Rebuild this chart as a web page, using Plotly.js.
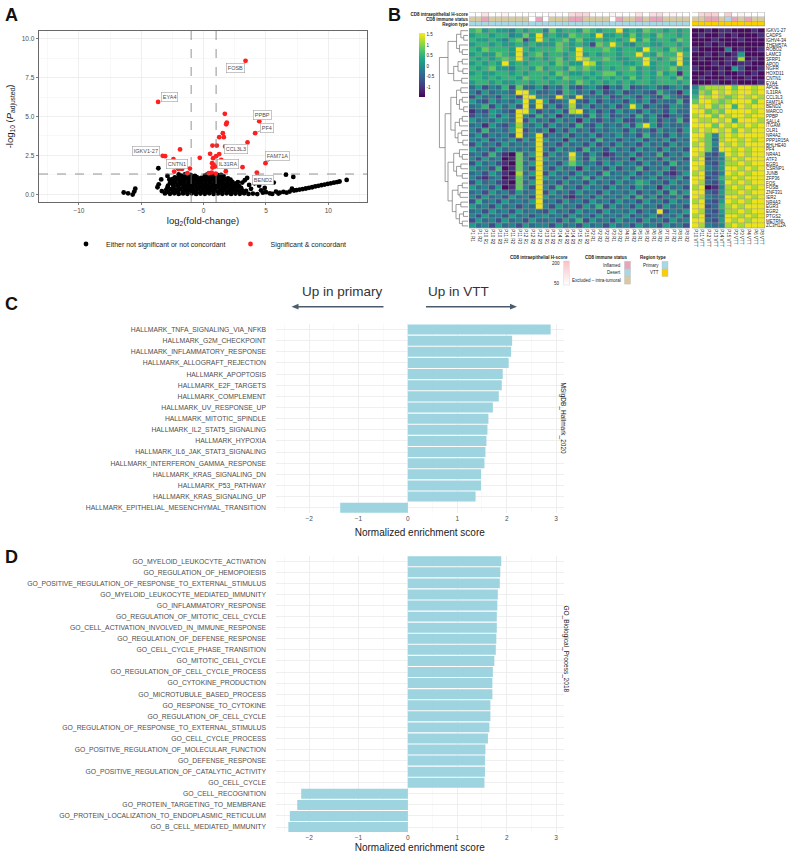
<!DOCTYPE html>
<html><head><meta charset="utf-8">
<script src="https://cdn.plot.ly/plotly-3.0.1.min.js"></script>
<style>html,body{margin:0;padding:0;background:#fff}#chart{width:790px;height:853px}</style>
</head><body><div id="chart"></div>
<script>
// ================= DATA =================
// ---- Panel A: volcano ----
const sigX=[3.36,-3.65,1.70,1.86,1.81,4.46,4.13,1.54,1.62,1.25,3.52,0.71,1.06,1.73,-1.89,0.52,1.25,1.00,0.76,-0.31,-3.28,-3.09,1.41,-2.42,0.68,0.79,0.92,4.96,0.71,3.12,-2.07,-1.91,-1.73,-1.10,-2.36,1.78,4.27,-1.30,0.65,0.42,0.97,-2.00];
const sigY=[8.58,5.94,5.17,4.61,4.50,4.70,3.93,3.93,3.67,3.67,3.33,3.13,3.13,3.07,2.88,2.60,2.58,2.45,2.32,2.34,2.47,2.45,2.21,2.25,2.00,1.91,1.78,2.00,1.72,1.74,1.67,1.65,1.63,1.65,1.46,1.48,1.39,1.35,1.39,1.35,1.33,1.62];
const nsPoints=[
[-3.1,0.05],[-2.7,0.03],[-2.35,0.06],[-2.0,0.02],[-1.65,0.05],[-1.3,0.03],[-0.95,0.06],[-0.6,0.02],[-0.25,0.04],[0.1,0.03],[0.45,0.06],[0.8,0.02],[1.15,0.05],[1.5,0.03],[1.85,0.06],[2.2,0.02],[2.55,0.04],[2.9,0.03],[3.25,0.06],[3.6,0.02],[3.95,0.04],[4.3,0.01],
[-2.85,0.16],[-2.45,0.18],[-2.05,0.15],[-1.65,0.17],[-1.3,0.14],[-0.95,0.18],[-0.6,0.16],[-0.25,0.13],[0.1,0.17],[0.45,0.15],[0.8,0.18],[1.15,0.14],[1.5,0.17],[1.85,0.15],[2.2,0.18],[2.55,0.14],[2.9,0.16],[3.2,0.12],
[-3.0,0.28],[-2.6,0.32],[-2.2,0.27],[-1.85,0.33],[-1.5,0.29],[-1.15,0.31],[-0.8,0.27],[-0.45,0.33],[-0.1,0.29],[0.25,0.31],[0.6,0.27],[0.95,0.34],[1.3,0.28],[1.65,0.32],[2.0,0.27],[2.35,0.31],[2.7,0.26],[3.05,0.3],[3.4,0.22],
[-2.9,0.44],[-2.4,0.46],[-2.0,0.43],[-1.6,0.47],[-1.25,0.44],[-0.9,0.46],[-0.55,0.42],[-0.2,0.47],[0.15,0.44],[0.5,0.45],[0.85,0.43],[1.2,0.47],[1.55,0.44],[1.9,0.46],[2.25,0.42],[2.6,0.45],[3.0,0.41],
[-2.85,0.55],[-2.45,0.6],[-2.1,0.56],[-1.75,0.62],[-1.4,0.57],[-1.05,0.6],[-0.7,0.55],[-0.35,0.61],[0.0,0.57],[0.35,0.6],[0.7,0.56],[1.05,0.62],[1.4,0.57],[1.75,0.6],[2.1,0.55],[2.45,0.59],[2.85,0.52],
[-2.7,0.72],[-2.3,0.74],[-1.95,0.71],[-1.6,0.75],[-1.25,0.72],[-0.9,0.73],[-0.55,0.7],[-0.2,0.74],[0.15,0.72],[0.5,0.74],[0.85,0.71],[1.2,0.75],[1.55,0.72],[1.9,0.73],[2.25,0.69],[2.6,0.7],
[-2.6,0.84],[-2.25,0.88],[-1.9,0.83],[-1.55,0.89],[-1.2,0.85],[-0.85,0.82],[-0.5,0.87],[-0.15,0.84],[0.2,0.89],[0.55,0.85],[0.9,0.88],[1.25,0.83],[1.6,0.87],[1.95,0.82],[2.3,0.8],[2.75,0.78],
[-2.45,0.98],[-2.05,1.0],[-1.7,0.97],[-1.35,1.01],[-1.0,0.98],[-0.65,0.96],[-0.3,0.99],[0.05,0.97],[0.4,1.01],[0.75,0.98],[1.1,1.0],[1.45,0.96],[1.8,0.95],[2.15,0.93],
[-2.3,1.08],[-1.95,1.12],[-1.6,1.1],[-1.25,1.14],[-0.9,1.07],[-0.55,1.1],[-0.2,1.05],[0.2,1.12],[0.5,1.15],[0.85,1.1],[1.2,1.13],[1.55,1.06],[1.95,1.02],
[-1.8,1.2],[-1.35,1.19],[-0.7,1.18],[0.1,1.2],[0.45,1.22],[0.8,1.19],[1.2,1.21],[1.6,1.17],
[-2.0,1.27],[-1.5,1.28],[-1.05,1.25],[0.3,1.27],[0.65,1.28],[1.05,1.26],[1.4,1.24],
[-3.4,0.95],[-3.6,0.64],[-3.7,0.45],[-3.35,0.2],[-3.63,1.67],[-2.9,1.18],[-2.75,0.95],[3.3,0.9],[3.49,1.05],[3.65,0.6],[3.8,0.35],[3.1,0.75],
[4.08,0.7],[4.2,0.92],[4.45,0.55],[4.6,0.25],[4.75,0.1],[5.0,0.13],[5.3,0.06],[5.62,0.75],[5.8,0.17],[6.1,0.1],[6.4,0.15],[6.6,1.26],[6.65,0.1],[6.9,0.17],[7.08,0.36],[7.19,1.11],[7.25,0.24],[7.45,0.27],[7.7,0.3],[7.95,0.33],[8.2,0.37],[8.45,0.41],[8.7,0.45],[8.95,0.5],[9.2,0.54],[9.45,0.58],[9.7,0.62],[9.95,0.66],[10.2,0.7],[10.45,0.74],[10.7,0.78],[10.9,0.82],[11.47,0.92],[5.5,0.02],[6.0,0.04],[4.9,0.4],
[-6.41,0.11],[-6.06,0.06],[-5.69,-0.02],[-5.56,0.17],[-5.48,0.36]
];
const labelGenes=['FOSB','EYA4','PPBP','PF4','CCL3L3','IGKV1-27','CNTN1','IL31RA','FAM71A','BEND2'];
const labelX=[2.58,-2.77,4.72,5.05,2.58,-4.59,-2.16,1.94,5.9,4.8];
const labelY=[8.11,6.27,5.09,4.27,2.88,2.79,1.97,1.95,2.47,0.92];
const labelPointX=[3.36,-3.65,4.46,4.13,1.73,-3.28,-1.91,0.92,4.96,4.27];
const labelPointY=[8.58,5.94,4.70,3.93,3.07,2.47,1.65,1.78,2.00,1.39];
const labelSegment=[0,0,0,1,0,0,0,0,1,1];
const fcCut=1, padjCut=1.3;

// ---- Panel B: heatmap ----
const genes=['IGKV1-27','CADPS','IGHV4-34','THEM57A','ROBO2','LAMC3','SFRP1','APOD','NGFR','HOXD11','CNTN1','EYA4','APOE','IL31RA','CCL3L3','FAM71A','BEND2','MARCO','PPBP','SALL4','ITGAM','OLR1','NR4A2','PPP1R15A','BHLHE40','PF4','NR4A1','ATF3','EGR1','CSRNP1','JUNB','ZFP36','FOS','FOSB','ZNF331','IER2','NR4A3','EGR3','EGR2','PTGS2','METRNL','ZC3H12A'];
const primaryCols=['P1 R1','P1 R2','P10 R1','P10 R2','P10 R3','P11 R1','P11 R2','P11 R3','P12 R1','P12 R2','P12 R3','P13 R1','P13 R2','P14 R1','P14 R2','P14 R3','P15 R1','P15 R2','P2 R1','P2 R2','P2 R3','P3 R1','P3 R2','P4 R1','P4 R2','P5 R1','P5 R2','P6 R1','P6 R2','P7 R1','P7 R2','P8 R1','P8 R2'];
const vttCols=['P10 VTT','P11 VTT','P12 VTT','P13 VTT','P14 VTT','P15 VTT','P2 VTT','P3 VTT','P4 VTT','P6 VTT','P8 VTT'];
// expression level codes 0..9 per cell (primary 11|11|11 | vtt 11)
const exprLevels=[-1.4,-1.1,-0.78,-0.46,-0.14,0.18,0.5,0.82,1.14,1.46];
const exprRows=[
"67565546566|47566576566|95657665656|00101100010",
"56656645759|56557665955|65756576656|01001010001",
"65565467259|65675755656|56957566576|00010001000",
"56656556565|55765652769|65466556656|00101000000",
"65766659656|66765966676|56659665765|10000401001",
"56557659567|56656956566|56696576696|00101015000",
"65656769656|56756986676|55669656795|01000118010",
"56565956566|65765598566|65569566595|00010101100",
"65675546657|56657676565|66756566756|10001052001",
"56556656566|65765565677|56656575616|00101001010",
"66565665766|56576656565|65756566575|01000100100",
"56656556656|65665765656|56566566656|00010010001",
"35243627335|24363245314|36234532453|47888979989",
"42534439953|34265342523|52343264315|58798989989",
"25342542994|43953934352|35425326432|69898789898",
"53253435949|52349325243|42535243362|79987899979",
"34625352939|35248352435|24952432543|98978969899",
"13254329952|43528935242|53425342533|99787999989",
"24352539426|35143426352|34263521342|89979899899",
"53435439253|42534153243|52243524362|98898969998",
"34153248435|25342632534|35269524334|99979898989",
"42634359243|51425342434|42534253425|89898979899",
"35243429349|24352435243|53426342534|99748989999",
"43524352539|53415342634|24352435243|98738998989",
"25342534349|34253425242|53425342534|89749898999",
"53425343439|42534263425|34253425342|99739989899",
"34263107359|25349425312|43524362435|98325989899",
"42534017429|53438426342|34153425342|89234898999",
"25342107359|34257534253|53425342634|99325889899",
"53426017429|42534153425|24362435243|98435998989",
"34253108359|25342534263|43524352135|89324989899",
"42134017429|53425362534|35243524352|99236898999",
"25342107359|34253425342|53465342534|98325989899",
"53425017429|42634253425|34253415342|89014898989",
"34253425349|25342534253|43524352635|99325889899",
"42534253429|53421342534|35263524352|98434998989",
"26342534359|34253425342|53425342534|89325989899",
"53425342439|42534253625|34253425342|99236898999",
"34253425343|25342534253|43524392435|98325889899",
"42534253424|53425342534|35243524352|89234998989",
"25342534253|34253625342|53425342534|99325989899",
"53425342534|42534253425|34253425342|98434898999"
];
const hscorePrimary=[60,50,120,50,60,80,50,50,50,60,50,50,70,60,50,140,160,150,60,50,50,80,60,50,60,120,50,130,140,70,80,60,50];
const hscoreVTT=[50,150,170,160,50,170,60,80,60,50,50];
const immunePrimary=['E','E','I','E','E','E','E','E','E','NA','I','NA','E','E','E','I','I','E','E','E','E','NA','I','E','E','I','E','I','I','E','E','E','E'];
const immuneVTT=['E','E','I','I','E','D','I','E','I','E','E'];
const immuneLevels=['Inflamed','Desert','Excluded – intra-tumoral'];
const immuneCodes=['I','D','E'];
const immuneColors=['#e8a5b9','#a8d6e4','#d9c99f'];
const regionLevels=['Primary','VTT'];
const regionColors=['#a6d8e5','#f8d000'];
const hscoreLegend=[50,200];
// dendrogram: [height, left, right], leaves = row index
const dendro=[10,
 [7,[4,[2.5,0,[1.5,1,2]],[3,3,[2,4,5]]],[5,[3.5,[2,6,7],[1.8,8,9]],[2.2,10,11]]],
 [8,[6,[4,[2.5,12,13],[3,[2,14,15],[1.5,16,17]]],[4.5,[3,[2,18,19],20],[3.5,[2.2,21,22],[1.8,23,24]]]],
    [7,[5,[3,25,[2,26,27]],[4,[2.5,28,29],[2,30,31]]],[5.5,[3.5,[2,32,33],[2.8,34,35]],[4.2,[2.5,36,37],[3,[1.6,38,39],[2,40,41]]]]]]
];

// ---- Panels C & D: enrichment ----
const hallmarkTerms=['HALLMARK_TNFA_SIGNALING_VIA_NFKB','HALLMARK_G2M_CHECKPOINT','HALLMARK_INFLAMMATORY_RESPONSE','HALLMARK_ALLOGRAFT_REJECTION','HALLMARK_APOPTOSIS','HALLMARK_E2F_TARGETS','HALLMARK_COMPLEMENT','HALLMARK_UV_RESPONSE_UP','HALLMARK_MITOTIC_SPINDLE','HALLMARK_IL2_STAT5_SIGNALING','HALLMARK_HYPOXIA','HALLMARK_IL6_JAK_STAT3_SIGNALING','HALLMARK_INTERFERON_GAMMA_RESPONSE','HALLMARK_KRAS_SIGNALING_DN','HALLMARK_P53_PATHWAY','HALLMARK_KRAS_SIGNALING_UP','HALLMARK_EPITHELIAL_MESENCHYMAL_TRANSITION'];
const hallmarkNES=[2.89,2.11,2.09,2.04,1.92,1.90,1.84,1.72,1.63,1.61,1.59,1.57,1.55,1.48,1.48,1.37,-1.37];
const goTerms=['GO_MYELOID_LEUKOCYTE_ACTIVATION','GO_REGULATION_OF_HEMOPOIESIS','GO_POSITIVE_REGULATION_OF_RESPONSE_TO_EXTERNAL_STIMULUS','GO_MYELOID_LEUKOCYTE_MEDIATED_IMMUNITY','GO_INFLAMMATORY_RESPONSE','GO_REGULATION_OF_MITOTIC_CELL_CYCLE','GO_CELL_ACTIVATION_INVOLVED_IN_IMMUNE_RESPONSE','GO_REGULATION_OF_DEFENSE_RESPONSE','GO_CELL_CYCLE_PHASE_TRANSITION','GO_MITOTIC_CELL_CYCLE','GO_REGULATION_OF_CELL_CYCLE_PROCESS','GO_CYTOKINE_PRODUCTION','GO_MICROTUBULE_BASED_PROCESS','GO_RESPONSE_TO_CYTOKINE','GO_REGULATION_OF_CELL_CYCLE','GO_REGULATION_OF_RESPONSE_TO_EXTERNAL_STIMULUS','GO_CELL_CYCLE_PROCESS','GO_POSITIVE_REGULATION_OF_MOLECULAR_FUNCTION','GO_DEFENSE_RESPONSE','GO_POSITIVE_REGULATION_OF_CATALYTIC_ACTIVITY','GO_CELL_CYCLE','GO_CELL_RECOGNITION','GO_PROTEIN_TARGETING_TO_MEMBRANE','GO_PROTEIN_LOCALIZATION_TO_ENDOPLASMIC_RETICULUM','GO_B_CELL_MEDIATED_IMMUNITY'];
const goNES=[1.89,1.87,1.86,1.82,1.81,1.80,1.80,1.79,1.78,1.75,1.72,1.71,1.71,1.67,1.67,1.65,1.62,1.57,1.56,1.56,1.55,-2.16,-2.24,-2.39,-2.42];

// ================= BUILD =================
const W=790,H=853;
const px=x=>x/W, py=y=>1-y/H;
const FONT='Liberation Sans, Arial, Helvetica, sans-serif';
const G={hmL:[469,690],hmR:[692,765],hmY:[28.3,228.3],annY:[12.3,26.3],dendX:[438,468]};

const traces=[];
traces.push({type:'scatter',mode:'markers',x:nsPoints.map(p=>p[0]),y:nsPoints.map(p=>p[1]),xaxis:'x',yaxis:'y',
  name:'Either not significant or not concordant',marker:{color:'#000',size:4.8},hoverinfo:'skip'});
traces.push({type:'scatter',mode:'markers',x:sigX,y:sigY,xaxis:'x',yaxis:'y',
  name:'Significant & concordant',marker:{color:'#ff1f1f',size:4.8},hoverinfo:'skip'});

// heatmap
const nP=primaryCols.length;
const zAll=exprRows.map(s=>s.replace(/\|/g,'').split('').map(c=>exprLevels[+c]));
const zLeft=zAll.map(r=>r.slice(0,nP)), zRight=zAll.map(r=>r.slice(nP));
const rowIdx=genes.map((_,i)=>i);
const hmCommon={type:'heatmap',colorscale:'Viridis',zmin:-1.5,zmax:1.55,xgap:0.5,ygap:0.5,hoverinfo:'skip',y:rowIdx};
traces.push(Object.assign({},hmCommon,{z:zLeft,x:primaryCols.map((_,i)=>i),xaxis:'x2',yaxis:'y2',showscale:true,
  colorbar:{x:px(418.5),xanchor:'left',y:py(65.5),yanchor:'middle',len:64,lenmode:'pixels',thickness:5.5,thicknessmode:'pixels',
   outlinewidth:0,tickvals:[-1,-0.5,0,0.5,1,1.5],ticktext:['-1','-0.5','0','0.5','1','1.5'],tickfont:{size:4.5,family:FONT,color:'#222'},ticks:'',xpad:0,ypad:0}}));
traces.push(Object.assign({},hmCommon,{z:zRight,x:vttCols.map((_,i)=>i),xaxis:'x3',yaxis:'y2',showscale:false}));

// annotation bars
const hsScale=[[0,'#ffffff'],[1,'#f7c2c4']];
traces.push({type:'heatmap',z:[hscorePrimary],x:primaryCols.map((_,i)=>i),y:[0],xaxis:'x2',yaxis:'y3',colorscale:hsScale,zmin:50,zmax:200,showscale:false,xgap:0.5,ygap:0.5,hoverinfo:'skip'});
traces.push({type:'heatmap',z:[hscoreVTT],x:vttCols.map((_,i)=>i),y:[0],xaxis:'x3',yaxis:'y3',colorscale:hsScale,zmin:50,zmax:200,showscale:false,xgap:0.5,ygap:0.5,hoverinfo:'skip'});
const catColors=[...immuneColors,...regionColors,'#ffffff'];
const nCat=catColors.length;
const catScale=[];catColors.forEach((c,i)=>{catScale.push([i/nCat,c]);catScale.push([(i+1)/nCat,c]);});
const immCode=v=>{const k=immuneCodes.indexOf(v);return k<0?5:k;};
traces.push({type:'heatmap',z:[immunePrimary.map(immCode),primaryCols.map(()=>3)],x:primaryCols.map((_,i)=>i),y:[1,2],xaxis:'x2',yaxis:'y3',colorscale:catScale,zmin:-0.5,zmax:nCat-0.5,showscale:false,xgap:0.5,ygap:0.5,hoverinfo:'skip'});
traces.push({type:'heatmap',z:[immuneVTT.map(immCode),vttCols.map(()=>4)],x:vttCols.map((_,i)=>i),y:[1,2],xaxis:'x3',yaxis:'y3',colorscale:catScale,zmin:-0.5,zmax:nCat-0.5,showscale:false,xgap:0.5,ygap:0.5,hoverinfo:'skip'});

// dendrogram
const dx=[],dy=[];
function walk(n){ if(typeof n==='number') return {y:n,h:0};
  const L=walk(n[1]),R=walk(n[2]),h=n[0];
  dx.push(h,h,null,L.h,h,null,R.h,h,null); dy.push(L.y,R.y,null,L.y,L.y,null,R.y,R.y,null);
  return {y:(L.y+R.y)/2,h};}
walk(dendro);
traces.push({type:'scatter',mode:'lines',x:dx,y:dy,xaxis:'x4',yaxis:'y2',line:{color:'#707070',width:0.7},hoverinfo:'skip',showlegend:false});

// H-score legend gradient
const hsSteps=[];for(let v=hscoreLegend[0];v<=hscoreLegend[1];v+=5)hsSteps.push(v);
traces.push({type:'heatmap',z:hsSteps.map(v=>[v]),y:hsSteps,x:[0],xaxis:'x7',yaxis:'y7',colorscale:hsScale,zmin:50,zmax:200,showscale:false,hoverinfo:'skip'});

// bars
const barColor='#9dd4df';
traces.push({type:'bar',orientation:'h',x:hallmarkNES,y:hallmarkTerms,xaxis:'x5',yaxis:'y5',marker:{color:barColor,line:{width:0}},width:0.9,hoverinfo:'skip',showlegend:false});
traces.push({type:'bar',orientation:'h',x:goNES,y:goTerms,xaxis:'x6',yaxis:'y6',marker:{color:barColor,line:{width:0}},width:0.9,hoverinfo:'skip',showlegend:false});
traces.forEach(t=>{if(t.showlegend===undefined && t.type!=='scatter')t.showlegend=false;});

// ---- layout ----
const tickF={size:6.5,color:'#4d4d4d',family:FONT};
const volcanoAxis={showline:true,mirror:true,linecolor:'#444',linewidth:0.8,gridcolor:'#ebebeb',gridwidth:0.8,zeroline:false,
  ticks:'outside',ticklen:2.5,tickwidth:0.7,tickcolor:'#444',tickfont:tickF};
const nesAxis={range:[-2.67,3.15],dtick:1,tick0:0,gridcolor:'#ebebeb',gridwidth:0.8,zeroline:false,ticks:'',tickfont:tickF,
  minor:{dtick:0.5,showgrid:true,gridcolor:'#f3f3f3',gridwidth:0.5},
  title:{text:'Normalized enrichment score',font:{size:10,color:'#1a1a1a',family:FONT},standoff:8}};
const catAxis={type:'category',autorange:'reversed',gridcolor:'#ebebeb',gridwidth:0.8,ticks:'',ticklabelstandoff:9,
  tickfont:{size:6.8,color:'#4d4d4d',family:FONT},zeroline:false};

const layout={width:W,height:H,margin:{l:0,r:0,t:0,b:0},paper_bgcolor:'#fff',plot_bgcolor:'#fff',
  font:{family:FONT,color:'#222'},showlegend:true,
  legend:{orientation:'h',x:px(66),xanchor:'left',y:py(244),yanchor:'middle',font:{size:7,color:'#1a1a1a',family:FONT},bgcolor:'rgba(0,0,0,0)',itemwidth:30,tracegroupgap:0},
  xaxis:Object.assign({},volcanoAxis,{domain:[px(39),px(367)],anchor:'y',range:[-13.2,13.1],dtick:5,tick0:0,
    minor:{dtick:2.5,showgrid:true,gridcolor:'#f2f2f2',gridwidth:0.5},
    title:{text:'log<sub>2</sub>(fold-change)',font:{size:9.5,color:'#1a1a1a',family:FONT},standoff:4}}),
  yaxis:Object.assign({},volcanoAxis,{domain:[py(202),py(31)],anchor:'x',range:[-0.5,10.5],dtick:2.5,tick0:0,tickformat:'.1f',
    minor:{dtick:1.25,showgrid:true,gridcolor:'#f2f2f2',gridwidth:0.5},
    title:{text:'-log<sub>10</sub> (<i>P</i><sub>adjusted</sub>)',font:{size:9.5,color:'#1a1a1a',family:FONT},standoff:6}}),
  xaxis2:{domain:[px(G.hmL[0]),px(G.hmL[1])],anchor:'y2',range:[-0.5,nP-0.5],tickvals:primaryCols.map((_,i)=>i),ticktext:primaryCols,
    tickangle:90,tickfont:{size:4.5,color:'#222',family:FONT},showgrid:false,zeroline:false,ticks:'',showline:false},
  xaxis3:{domain:[px(G.hmR[0]),px(G.hmR[1])],anchor:'y2',range:[-0.5,vttCols.length-0.5],tickvals:vttCols.map((_,i)=>i),ticktext:vttCols,
    tickangle:90,tickfont:{size:4.5,color:'#222',family:FONT},showgrid:false,zeroline:false,ticks:'',showline:false},
  yaxis2:{domain:[py(G.hmY[1]),py(G.hmY[0])],anchor:'x3',side:'right',range:[genes.length-0.5,-0.5],tickvals:rowIdx,ticktext:genes,
    tickfont:{size:4.5,color:'#222',family:FONT},showgrid:false,zeroline:false,ticks:'',showline:false},
  yaxis3:{domain:[py(G.annY[1]),py(G.annY[0])],anchor:'x2',side:'left',range:[2.5,-0.5],tickvals:[0,1,2],
    ticktext:['<b>CD8 intraepithelial H-score</b>','<b>CD8 immune status</b>','<b>Region type</b>'],
    tickfont:{size:4.5,color:'#222',family:FONT},showgrid:false,zeroline:false,ticks:'',showline:false},
  xaxis4:{domain:[px(G.dendX[0]),px(G.dendX[1])],anchor:'y2',range:[10.5,0],visible:false},
  xaxis7:{domain:[px(563.5),px(569.5)],anchor:'y7',visible:false,range:[-0.5,0.5]},
  yaxis7:{domain:[py(285),py(261)],anchor:'x7',visible:false,range:[50,200]},
  xaxis5:Object.assign({},nesAxis,{domain:[px(276),px(563.5)],anchor:'y5'}),
  yaxis5:Object.assign({},catAxis,{domain:[py(513.3),py(324)],anchor:'x5'}),
  xaxis6:Object.assign({},nesAxis,{domain:[px(276),px(563.5)],anchor:'y6'}),
  yaxis6:Object.assign({},catAxis,{domain:[py(832.6),py(555.7)],anchor:'x6'}),
  annotations:[],shapes:[]
};
const A=layout.annotations,S=layout.shapes;
// panel letters
[['A',3,3],['B',386,3],['C',3,292],['D',3,545]].forEach(([t,x,y])=>A.push({text:'<b>'+t+'</b>',xref:'paper',yref:'paper',x:px(x),y:py(y),xanchor:'left',yanchor:'top',showarrow:false,font:{size:18,color:'#111',family:FONT}}));
// volcano thresholds
[-fcCut,fcCut].forEach(v=>S.push({type:'line',xref:'x',yref:'y domain',x0:v,x1:v,y0:0,y1:1,line:{color:'#777',width:0.8,dash:'dash'}}));
S.push({type:'line',xref:'x domain',yref:'y',x0:0,x1:1,y0:padjCut,y1:padjCut,line:{color:'#777',width:0.8,dash:'dash'}});
// gene labels
labelGenes.forEach((g,i)=>A.push({text:g,xref:'x',yref:'y',x:labelPointX[i],y:labelPointY[i],axref:'x',ayref:'y',ax:labelX[i],ay:labelY[i],
  showarrow:!!labelSegment[i],arrowhead:0,arrowwidth:0.6,arrowcolor:'#555',standoff:2,
  ...(labelSegment[i]?{}:{x:labelX[i],y:labelY[i],showarrow:false}),
  font:{size:5.5,color:'#4d4d4d',family:FONT},bgcolor:'#fff',bordercolor:'#a0a0a0',borderwidth:0.6,borderpad:1.2}));
// heatmap gray grid backgrounds
[[G.hmL,G.hmY],[G.hmR,G.hmY],[G.hmL,G.annY],[G.hmR,G.annY]].forEach(([xr,yr])=>S.push({type:'rect',xref:'paper',yref:'paper',layer:'below',
  x0:px(xr[0]),x1:px(xr[1]),y0:py(yr[1]),y1:py(yr[0]),fillcolor:'#9a9a9a',line:{width:0}}));
// heatmap legends
const lf={size:4.5,color:'#222',family:FONT};
A.push({text:'<b>CD8 intraepithelial H-score</b>',xref:'paper',yref:'paper',x:px(570),y:py(257.5),xanchor:'right',yanchor:'middle',showarrow:false,font:lf});
A.push({text:String(hscoreLegend[1]),xref:'paper',yref:'paper',x:px(561.5),y:py(263.5),xanchor:'right',yanchor:'middle',showarrow:false,font:lf});
A.push({text:String(hscoreLegend[0]),xref:'paper',yref:'paper',x:px(561.5),y:py(283),xanchor:'right',yanchor:'middle',showarrow:false,font:lf});
S.push({type:'rect',xref:'paper',yref:'paper',x0:px(563.5),x1:px(569.5),y0:py(285),y1:py(261),line:{color:'#ccc',width:0.4}});
A.push({text:'<b>CD8 immune status</b>',xref:'paper',yref:'paper',x:px(630),y:py(257.5),xanchor:'right',yanchor:'middle',showarrow:false,font:lf});
immuneLevels.forEach((l,i)=>{const y0=261.3+i*7.6;
  S.push({type:'rect',xref:'paper',yref:'paper',x0:px(624.5),x1:px(630.5),y0:py(y0+7.6),y1:py(y0),fillcolor:immuneColors[i],line:{color:'#bbb',width:0.4}});
  A.push({text:l,xref:'paper',yref:'paper',x:px(623),y:py(y0+3.8),xanchor:'right',yanchor:'middle',showarrow:false,font:lf});});
A.push({text:'<b>Region type</b>',xref:'paper',yref:'paper',x:px(668),y:py(257.5),xanchor:'right',yanchor:'middle',showarrow:false,font:lf});
regionLevels.forEach((l,i)=>{const y0=261.3+i*7.6;
  S.push({type:'rect',xref:'paper',yref:'paper',x0:px(662),x1:px(668),y0:py(y0+7.6),y1:py(y0),fillcolor:regionColors[i],line:{color:'#bbb',width:0.4}});
  A.push({text:l,xref:'paper',yref:'paper',x:px(661),y:py(y0+3.8),xanchor:'right',yanchor:'middle',showarrow:false,font:lf});});
// direction labels & arrows
A.push({text:'Up in primary',xref:'paper',yref:'paper',x:px(342),y:py(291),showarrow:false,font:{size:13.5,color:'#333',family:FONT}});
A.push({text:'Up in VTT',xref:'paper',yref:'paper',x:px(458),y:py(291),showarrow:false,font:{size:13.5,color:'#333',family:FONT}});
const arrowCol='#4b5b6c', ay=306.7;
S.push({type:'line',xref:'paper',yref:'paper',x0:px(296),x1:px(383.5),y0:py(ay),y1:py(ay),line:{color:arrowCol,width:1.5}});
S.push({type:'line',xref:'paper',yref:'paper',x0:px(426),x1:px(512.5),y0:py(ay),y1:py(ay),line:{color:arrowCol,width:1.5}});
const tri=(xt,xb)=>`M ${px(xt)} ${py(ay)} L ${px(xb)} ${py(ay-2.9)} L ${px(xb)} ${py(ay+2.9)} Z`;
S.push({type:'path',xref:'paper',yref:'paper',path:tri(291.5,298.5),fillcolor:arrowCol,line:{width:0}});
S.push({type:'path',xref:'paper',yref:'paper',path:tri(517,510),fillcolor:arrowCol,line:{width:0}});
// facet strips
A.push({text:'MSigDB_Hallmark_2020',xref:'paper',yref:'paper',x:px(569),y:py(418.5),textangle:90,showarrow:false,font:{size:6.5,color:'#1a1a1a',family:FONT}});
A.push({text:'GO_Biological_Process_2018',xref:'paper',yref:'paper',x:px(572),y:py(694),textangle:90,showarrow:false,font:{size:6.5,color:'#1a1a1a',family:FONT}});

Plotly.newPlot('chart',traces,layout,{staticPlot:true,displayModeBar:false});
</script></body></html>
